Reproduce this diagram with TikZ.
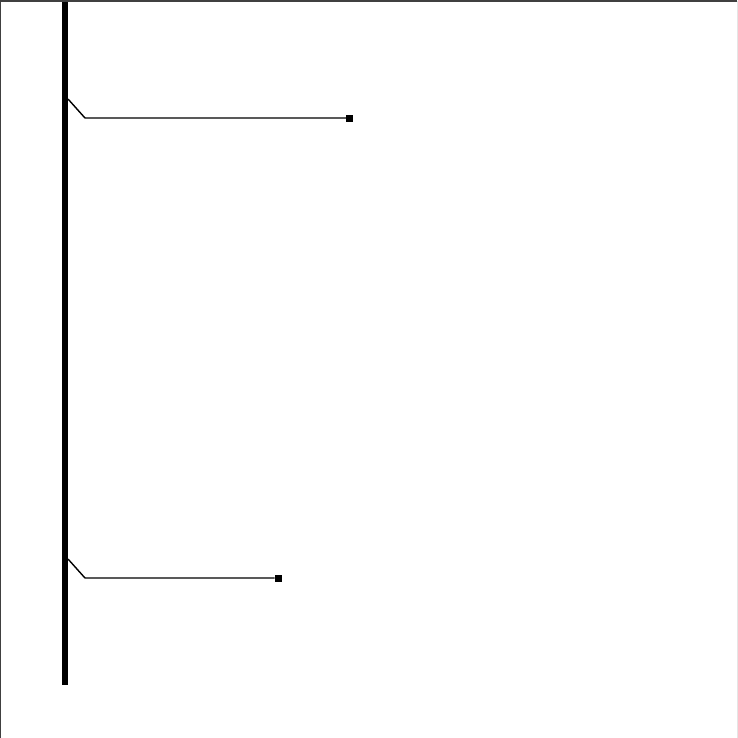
\documentclass[tikz,border=0pt]{standalone}
\usetikzlibrary{positioning}
\begin{document}
\begin{tikzpicture}[x=0.1mm, y=-0.1mm, line join=miter]
\tikzset{endbox/.style={draw=none, fill=black, minimum size=0.7mm, inner sep=0pt, outer sep=0pt}}
\useasboundingbox (0,0) rectangle (738,738);
%\draw[help lines, step=1cm] (0,0) grid +(738,738);
%%%%%%%%%%%%%%%%%%%%%%%%%%%%%%% frame
\draw[line width=0.2mm, black!75] (0.5,738) -- (0.5,1) -- (737,1);
\draw[line width=0.1mm, black!10] (737.5,1) -- (737.5,738);
%%%%%%%%%%%%%%%%%%%%%%%%%%%%%%% bus
\coordinate(top) at (65,2);
\coordinate(bottom) at (65,685);
\draw[line width=0.6mm] (top) -- (bottom);
%%%%%%%%%%%%%%%%%%%%%%%%%%%%%%% taps
\coordinate(tapA) at (68,99);
\coordinate(bendA) at (85,118);
\node[endbox](endA) at (349.5,118){};
\coordinate(tapB) at (68,559);
\coordinate(bendB) at (85,578);
\node[endbox](endB) at (278,578){};
\draw[line width=0.14mm] (tapA) -- (bendA) -- (endA);
\draw[line width=0.14mm] (tapB) -- (bendB) -- (endB);
\end{tikzpicture}
\end{document}
